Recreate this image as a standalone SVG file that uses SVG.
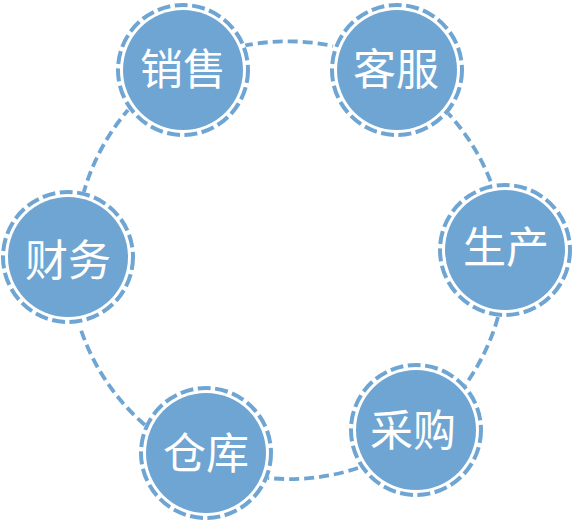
<svg xmlns="http://www.w3.org/2000/svg" width="575" height="524" viewBox="0 0 575 524">
<style>
.conn{fill:none;stroke:#6fa5d2;stroke-width:3.8;stroke-dasharray:10 5}
.bg{fill:#fff}
.fill{fill:#6fa5d2}
.ring{fill:none;stroke:#6fa5d2;stroke-width:4;stroke-dasharray:13 4.5}
.lbl{fill:#fff;font-family:"Noto Sans CJK SC","Noto Sans",sans-serif;font-size:43px;text-anchor:middle}
</style>
<rect width="575" height="524" fill="#fff"/>
<g id="connectors">
<path class="conn" d="M243 46 A218 218 0 0 1 333 46"/>
<path class="conn" d="M445 110 A218 218 0 0 1 492 185"/>
<path class="conn" d="M498 317 A218 218 0 0 1 463 388"/>
<path class="conn" d="M358 468 A218 218 0 0 1 268 478"/>
<path class="conn" d="M145 425 A218 218 0 0 1 80 327"/>
<path class="conn" d="M83 195 A218 218 0 0 1 128 110"/>
</g>
<g id="node-xiaoshou">
<circle class="bg" cx="183" cy="70" r="67"/><circle class="fill" cx="183" cy="70" r="60"/><circle class="ring" cx="183" cy="70" r="65"/>
<text class="lbl" x="183" y="85">销售</text>
</g>
<g id="node-kefu">
<circle class="bg" cx="397" cy="70" r="67"/><circle class="fill" cx="397" cy="70" r="60"/><circle class="ring" cx="397" cy="70" r="65"/>
<text class="lbl" x="396" y="85">客服</text>
</g>
<g id="node-shengchan">
<circle class="bg" cx="505" cy="250" r="67"/><circle class="fill" cx="505" cy="250" r="60"/><circle class="ring" cx="505" cy="250" r="65"/>
<text class="lbl" x="506" y="263">生产</text>
</g>
<g id="node-caigou">
<circle class="bg" cx="416" cy="430" r="67"/><circle class="fill" cx="416" cy="430" r="60"/><circle class="ring" cx="416" cy="430" r="65"/>
<text class="lbl" x="413" y="446">采购</text>
</g>
<g id="node-cangku">
<circle class="bg" cx="206" cy="453" r="67"/><circle class="fill" cx="206" cy="453" r="60"/><circle class="ring" cx="206" cy="453" r="65"/>
<text class="lbl" x="206" y="469">仓库</text>
</g>
<g id="node-caiwu">
<circle class="bg" cx="68" cy="257" r="67"/><circle class="fill" cx="68" cy="257" r="60"/><circle class="ring" cx="68" cy="257" r="65"/>
<text class="lbl" x="68" y="276">财务</text>
</g>
</svg>
